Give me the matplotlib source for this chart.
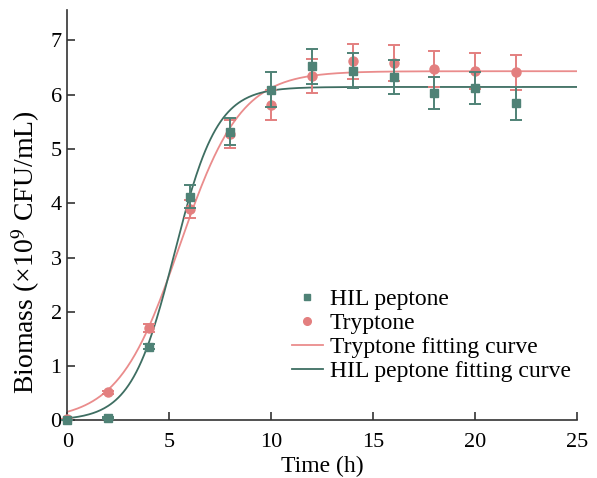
import numpy as np
from matplotlib import pyplot as plt

plt.rcParams['font.family'] = ['Liberation Serif', 'DejaVu Serif']
plt.rcParams['mathtext.fontset'] = 'stix'

# sampling times (h)
time = [0, 2, 4, 6, 8, 10, 12, 14, 16, 18, 20, 22]

# biomass (x10^9 CFU/mL) and error bars
hil = [0.0, 0.04, 1.36, 4.12, 5.32, 6.09, 6.52, 6.44, 6.32, 6.03, 6.12, 5.84]
hil_err = [0.0, 0.02, 0.05, 0.21, 0.24, 0.32, 0.32, 0.32, 0.31, 0.30, 0.30, 0.30]
tryp = [0.02, 0.52, 1.70, 3.89, 5.27, 5.81, 6.34, 6.61, 6.58, 6.47, 6.43, 6.41]
tryp_err = [0.0, 0.03, 0.08, 0.17, 0.26, 0.28, 0.32, 0.33, 0.33, 0.33, 0.33, 0.32]

# logistic fit parameters: plateau, rate, midpoint
hil_fit = (6.14, 0.95, 5.25)
tryp_fit = (6.43, 0.666, 5.51)

green = '#4f8276'
green_line = '#3e6e62'
pink = '#e37f7f'
pink_line = '#ea8c8c'

def logistic(t, a, k, t0):
    return a / (1 + np.exp(-k * (t - t0)))

tt = np.linspace(0, 25, 400)

fig = plt.figure(figsize=(5.97, 4.78), dpi=100)
ax = fig.add_axes([0.1127, 0.1203, 0.8538, 0.858])

ax.plot(tt, logistic(tt, *tryp_fit), color=pink_line, lw=1.3, label='Tryptone fitting curve', zorder=2)
ax.plot(tt, logistic(tt, *hil_fit), color=green_line, lw=1.3, label='HIL peptone fitting curve', zorder=2)

ax.errorbar(time, tryp, yerr=tryp_err, fmt='o', color=pink, ms=6.5, capsize=4,
            elinewidth=1.4, capthick=1.4, clip_on=False, zorder=3)
ax.errorbar(time, hil, yerr=hil_err, fmt='s', color=green, ms=6, capsize=4,
            elinewidth=1.4, capthick=1.4, clip_on=False, zorder=4)

# legend proxies
h1, = ax.plot([], [], 's', color=green, ms=5)
h2, = ax.plot([], [], 'o', color=pink, ms=5.5)
lines = ax.get_lines()
leg = ax.legend([h1, h2, lines[0], lines[1]],
                ['HIL peptone', 'Tryptone', 'Tryptone fitting curve', 'HIL peptone fitting curve'],
                loc='upper left', bbox_to_anchor=(0.418, 0.35), frameon=False, fontsize=17,
                handlelength=1.3, handletextpad=0.3, labelspacing=0.1, borderpad=0)

ax.set_xlim(0, 25)
ax.set_ylim(0, 7.55)
ax.set_xticks([0, 5, 10, 15, 20, 25])
ax.set_yticks(range(8))
ax.spines['top'].set_visible(False)
ax.spines['right'].set_visible(False)
for s in ['left', 'bottom']:
    ax.spines[s].set_linewidth(1.2)
    ax.spines[s].set_color('#333333')
ax.tick_params(direction='in', length=6, width=1.2, labelsize=16, color='#333333')
ax.tick_params(axis='x', pad=9)
ax.tick_params(axis='y', pad=4)
ax.set_xlabel('Time (h)', fontsize=17, labelpad=3)
ax.set_ylabel('Biomass (×10$^{9}$ CFU/mL)', fontsize=20)
ax.yaxis.set_label_coords(-0.05, 0.41)

fig.savefig('out.png', dpi=100)
